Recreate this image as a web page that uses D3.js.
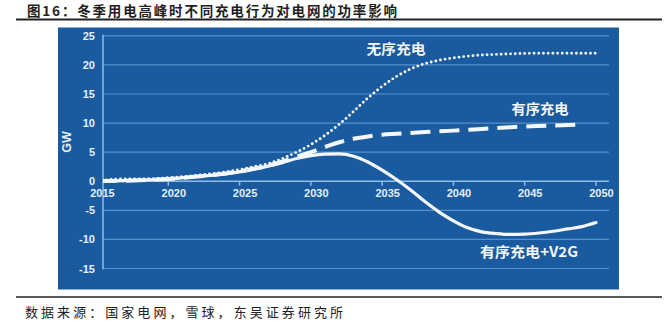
<!DOCTYPE html>
<html><head><meta charset="utf-8">
<script src="https://cdn.jsdelivr.net/npm/d3@7"></script>
<style>body{margin:0;background:#fff}svg{display:block}</style>
</head><body><svg id="c" width="670" height="332"></svg>
<script>
// ---- data ----
const titleText = "图16：冬季用电高峰时不同充电行为对电网的功率影响";
const sourceText = "数据来源：国家电网，雪球，东吴证券研究所";
const yLabel = "GW";
const seriesNames = ["无序充电", "有序充电", "有序充电+V2G"];
const xTicks = [2015, 2020, 2025, 2030, 2035, 2040, 2045, 2050];
const yTicks = [-15, -10, -5, 0, 5, 10, 15, 20, 25];

const yearsDisorderly = [2015,2016,2017,2018,2020,2022,2024,2025,2026,2027,2028,2029,2030,2031,2032,2033,2034,2035,2036,2037,2038,2039,2040,2041,2042,2043,2044,2046,2048,2050];
const disorderly      = [0.1,0.3,0.4,0.4,0.6,1.0,1.6,2.0,2.5,3.0,3.9,5.0,6.3,7.9,9.8,12.0,14.3,16.3,18.0,19.3,20.2,20.8,21.2,21.5,21.7,21.8,21.9,22.0,22.0,22.0];

const yearsOrderly = [2015,2017,2020,2022,2025,2027,2028,2029,2030,2031,2032,2033,2034,2035,2036,2037,2038,2040,2042,2044,2046,2049];
const orderly      = [0.05,0.1,0.4,0.8,1.7,2.7,3.4,4.2,5.0,5.9,6.7,7.3,7.7,8.0,8.15,8.3,8.45,8.7,9.0,9.3,9.5,9.75];

const yearsV2G = [2015,2017,2020,2022,2025,2027,2028,2029,2030,2031,2032,2033,2034,2035,2036,2037,2038,2039,2040,2041,2042,2043,2044,2045,2046,2047,2048,2049,2050];
const v2g      = [0.05,0.1,0.4,0.8,1.6,2.6,3.2,3.9,4.4,4.65,4.7,4.3,3.3,1.9,0.3,-1.5,-3.5,-5.3,-6.8,-8.0,-8.7,-9.0,-9.15,-9.1,-8.9,-8.6,-8.2,-7.8,-7.1];

// ---- drawing ----
const svg = d3.select("#c");
const panelBlue = "#1a5a9e";
const gridColor = "#5590cb";
const axisColor = "#8cbde9";
const textLight = "#e6eef7";
const lineWhite = "#f4f8fc";

const x = d3.scaleLinear().domain([2015, 2050]).range([97, 596]);
const y = d3.scaleLinear().domain([-15, 25]).range([268.5, 35.8]);
const axisX = 103, gridRight = 609;

// title and rules
svg.append("text").attr("x", 27).attr("y", 16)
  .attr("font-family", "'Noto Sans CJK SC', sans-serif").attr("font-weight", 700)
  .attr("font-size", 13.5).attr("fill", "#1e1e1e")
  .attr("textLength", 370).attr("lengthAdjust", "spacing").text(titleText);
svg.append("line").attr("x1", 16).attr("x2", 662).attr("y1", 19.5).attr("y2", 19.5)
  .attr("stroke", "#222").attr("stroke-width", 2);
svg.append("rect").attr("x", 58).attr("y", 27.5).attr("width", 561).attr("height", 262)
  .attr("fill", panelBlue);
svg.append("line").attr("x1", 16).attr("x2", 662).attr("y1", 297).attr("y2", 297)
  .attr("stroke", "#222").attr("stroke-width", 1.5);
svg.append("text").attr("x", 25).attr("y", 317)
  .attr("font-family", "'Noto Sans CJK SC', sans-serif").attr("font-size", 13)
  .attr("fill", "#222").attr("textLength", 318).attr("lengthAdjust", "spacing").text(sourceText);

// gridlines
svg.append("g").selectAll("line").data(yTicks.filter(d => d !== 0)).join("line")
  .attr("x1", axisX).attr("x2", gridRight)
  .attr("y1", d => y(d)).attr("y2", d => y(d))
  .attr("stroke", gridColor).attr("stroke-width", 1.2);

// y axis line
svg.append("line").attr("x1", axisX).attr("x2", axisX)
  .attr("y1", y(25) - 1).attr("y2", y(-15) + 1)
  .attr("stroke", axisColor).attr("stroke-width", 1.5);

// y tick labels
svg.append("g").selectAll("text").data(yTicks).join("text")
  .attr("x", 95).attr("y", d => y(d) + 4)
  .attr("text-anchor", "end")
  .attr("font-family", "'Liberation Sans', Arial, sans-serif").attr("font-weight", 700)
  .attr("font-size", 11).attr("fill", textLight).text(d => d);

// GW label
svg.append("text").attr("transform", "translate(71,142) rotate(-90)")
  .attr("text-anchor", "middle")
  .attr("font-family", "'Liberation Sans', Arial, sans-serif").attr("font-weight", 700)
  .attr("font-size", 12.5).attr("fill", textLight).text(yLabel);

// x axis (zero line)
svg.append("line").attr("x1", axisX).attr("x2", gridRight)
  .attr("y1", y(0)).attr("y2", y(0))
  .attr("stroke", axisColor).attr("stroke-width", 1.6);
svg.append("g").selectAll("line").data(xTicks.slice(1)).join("line")
  .attr("x1", d => x(d)).attr("x2", d => x(d))
  .attr("y1", y(0)).attr("y2", y(0) + 4.5)
  .attr("stroke", axisColor).attr("stroke-width", 1.5);
svg.append("g").selectAll("text").data(xTicks).join("text")
  .attr("x", d => x(d) + 5.5).attr("y", y(0) + 16)
  .attr("text-anchor", "middle")
  .attr("font-family", "'Liberation Sans', Arial, sans-serif").attr("font-weight", 700)
  .attr("font-size", 11).attr("fill", textLight).text(d => d);

// clip at y axis
svg.append("clipPath").attr("id", "plotclip").append("rect")
  .attr("x", axisX).attr("y", 28).attr("width", gridRight - axisX + 5).attr("height", 260);

const line = d3.line().x(d => x(d[0])).y(d => y(d[1])).curve(d3.curveMonotoneX);
const plot = svg.append("g").attr("clip-path", "url(#plotclip)");

plot.append("path").datum(d3.zip(yearsV2G, v2g)).attr("d", line)
  .attr("fill", "none").attr("stroke", lineWhite).attr("stroke-width", 3.2)
  .attr("stroke-linecap", "round");
plot.append("path").datum(d3.zip(yearsOrderly, orderly)).attr("d", line)
  .attr("fill", "none").attr("stroke", lineWhite).attr("stroke-width", 4)
  .attr("stroke-dasharray", "20 9");
plot.append("path").datum(d3.zip(yearsDisorderly, disorderly)).attr("d", line)
  .attr("fill", "none").attr("stroke", lineWhite).attr("stroke-width", 2.9)
  .attr("stroke-linecap", "round").attr("stroke-dasharray", "0 4.7");

// series labels
const labelPos = [[366.5, 54, 59], [511.5, 114, 57], [480, 257, 98]];
svg.append("g").selectAll("text").data(seriesNames).join("text")
  .attr("x", (d, i) => labelPos[i][0]).attr("y", (d, i) => labelPos[i][1])
  .attr("textLength", (d, i) => labelPos[i][2]).attr("lengthAdjust", "spacingAndGlyphs")
  .attr("font-family", "'Noto Sans CJK SC', sans-serif").attr("font-weight", 700)
  .attr("font-size", 14).attr("fill", "#f2f6fb").text(d => d);
</script></body></html>
